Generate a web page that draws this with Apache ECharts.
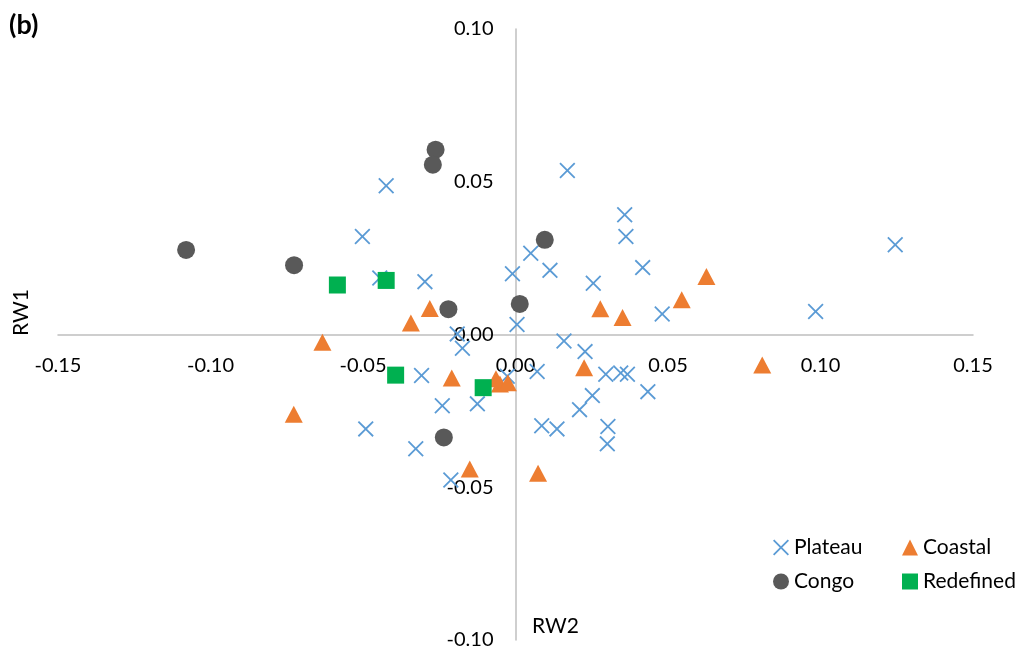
<!DOCTYPE html>
<html lang="en">

<head>
  <meta charset="UTF-8">
  <title>RW1 vs RW2</title>
  <style media="screen">
    html, body { margin: 0; padding: 0; background: #fff; }
  </style>
</head>

<body>
  <div id="main" style="width:1027px;height:649px;"></div>
</body>
<script src="https://cdn.jsdelivr.net/npm/echarts@6/dist/echarts.min.js"></script>

<script>
  // [RW2, RW1] pairs
  var plateau = [
    [-0.0424, 0.0487], [-0.0502, 0.0321], [-0.0445, 0.0185], [-0.0297, 0.0173],
    [-0.0010, 0.0199], [-0.0191, 0.0002], [-0.0174, -0.0045], [0.0005, 0.0033],
    [0.0170, 0.0537], [0.0358, 0.0392], [0.0362, 0.0321], [0.0050, 0.0266],
    [0.0113, 0.0210], [0.0255, 0.0168], [0.0417, 0.0219], [0.0481, 0.0067],
    [0.0984, 0.0075], [0.1245, 0.0294], [0.0159, -0.0021], [0.0228, -0.0056],
    [0.0071, -0.0121], [0.0296, -0.0130], [0.0345, -0.0126], [0.0367, -0.0130],
    [0.0434, -0.0187], [0.0252, -0.0200], [0.0210, -0.0246], [0.0086, -0.0299],
    [0.0136, -0.0309], [0.0303, -0.0301], [0.0301, -0.0358], [-0.0027, -0.0137],
    [-0.0308, -0.0134], [-0.0240, -0.0233], [-0.0125, -0.0227], [-0.0491, -0.0309],
    [-0.0327, -0.0374], [-0.0212, -0.0476]
  ];
  var coastal = [
    [-0.0281, 0.0085], [-0.0343, 0.0038], [-0.0633, -0.0025], [-0.0727, -0.0261],
    [-0.0209, -0.0142], [-0.0150, -0.0440], [-0.0064, -0.0145], [-0.0051, -0.0162],
    [-0.0025, -0.0158], [0.0074, -0.0454], [0.0225, -0.0109], [0.0278, 0.0084],
    [0.0351, 0.0056], [0.0545, 0.0114], [0.0626, 0.0190], [0.0809, -0.0100]
  ];
  var congo = [
    [-0.1080, 0.0277], [-0.0726, 0.0227], [-0.0262, 0.0605], [-0.0271, 0.0556],
    [-0.0220, 0.0083], [0.0096, 0.0310], [0.0014, 0.0100], [-0.0235, -0.0337]
  ];
  var redefined = [
    [-0.0584, 0.0162], [-0.0424, 0.0177], [-0.0393, -0.0133], [-0.0106, -0.0174]
  ];

  var font = 'Lato, "Open Sans", sans-serif';
  var crossPath = 'path://M0,8L8,0L50,42L92,0L100,8L58,50L100,92L92,100L50,58L8,100L0,92L42,50Z';

  var W = 1027, H = 649;
  var gLeft = 58, gRight = 54, gTop = 29, gBottom = 9;
  var gW = W - gLeft - gRight, gH = H - gTop - gBottom;

  var myChart = echarts.init(document.getElementById('main'));

  function axis(extra) {
    return echarts.util.merge({
      type: 'value',
      interval: 0.05,
      axisLine: { onZero: false, lineStyle: { color: '#bfbfbf', width: 1.5 } },
      axisTick: { show: false },
      splitLine: { show: false },
      axisLabel: {
        color: '#000',
        fontFamily: font,
        fontSize: 20,
        formatter: function (v) { return v.toFixed(2); }
      }
    }, extra, true);
  }

  myChart.setOption({
    backgroundColor: '#fff',
    animation: false,
    grid: { left: gLeft, right: gRight, top: gTop, bottom: gBottom, containLabel: false, outerBoundsMode: 'none' },
    // both ranges are symmetric, so zero sits in the middle of the grid
    xAxis: axis({ min: -0.15, max: 0.15, position: 'bottom', offset: -gH / 2, axisLabel: { margin: 21 } }),
    yAxis: axis({ min: -0.10, max: 0.10, position: 'left', offset: -gW / 2, axisLabel: { margin: 22 } }),
    legend: [{
      orient: 'vertical',
      left: 768, top: 532,
      itemWidth: 16, itemHeight: 16, itemGap: 13, itemTextGap: 6,
      textStyle: { color: '#000', fontFamily: font, fontSize: 21 },
      data: ['Plateau', 'Congo']
    }, {
      orient: 'vertical',
      left: 897, top: 532,
      itemWidth: 16, itemHeight: 16, itemGap: 13, itemTextGap: 6,
      textStyle: { color: '#000', fontFamily: font, fontSize: 21 },
      data: ['Coastal', 'Redefined']
    }],
    graphic: [
      { type: 'text', left: 9, top: 12, style: { text: '(b)', font: 'bold 27px ' + font, fill: '#000' } },
      { type: 'text', x: 11, y: 336, rotation: Math.PI / 2,
        style: { text: 'RW1', font: '21px ' + font, fill: '#000', textVerticalAlign: 'top' } },
      { type: 'text', left: 532, top: 616, style: { text: 'RW2', font: '21px ' + font, fill: '#000' } }
    ],
    series: [
      { name: 'Plateau', type: 'scatter', data: plateau, symbol: crossPath, symbolSize: 16,
        itemStyle: { color: '#5b9bd5', opacity: 1 } },
      { name: 'Coastal', type: 'scatter', data: coastal, symbol: 'triangle', symbolSize: [18, 17],
        itemStyle: { color: '#ed7d31', opacity: 1 } },
      { name: 'Congo', type: 'scatter', data: congo, symbol: 'circle', symbolSize: 18,
        itemStyle: { color: '#595959', opacity: 1 } },
      { name: 'Redefined', type: 'scatter', data: redefined, symbol: 'rect', symbolSize: 17,
        itemStyle: { color: '#00b050', opacity: 1 } }
    ]
  });
</script>

</html>
